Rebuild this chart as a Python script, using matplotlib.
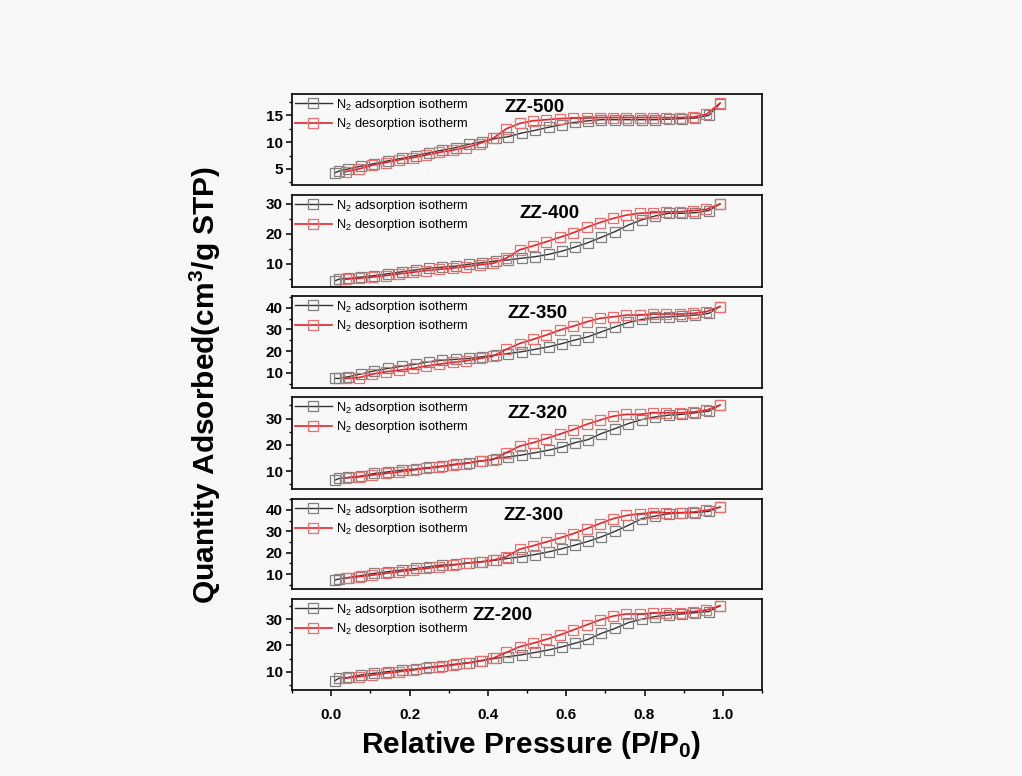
import matplotlib
matplotlib.use("Agg")
import matplotlib.pyplot as plt
from matplotlib.ticker import MultipleLocator

plt.rcParams['font.family'] = ['Liberation Sans', 'DejaVu Sans']
plt.rcParams['mathtext.default'] = 'regular'

# relative pressure points
x_ads = [0.01, 0.02, 0.044, 0.075, 0.11, 0.144, 0.182, 0.216, 0.25, 0.283, 0.319,
         0.351, 0.386, 0.42, 0.451, 0.486, 0.52, 0.556, 0.59, 0.622, 0.656, 0.69,
         0.725, 0.759, 0.793, 0.827, 0.862, 0.896, 0.93, 0.964, 0.992]
x_des = [0.037, 0.071, 0.105, 0.139, 0.174, 0.208, 0.242, 0.276, 0.31, 0.344, 0.379,
         0.413, 0.447, 0.481, 0.515, 0.549, 0.584, 0.618, 0.652, 0.686, 0.72, 0.754,
         0.788, 0.822, 0.856, 0.89, 0.924, 0.958, 0.993]

samples = ["ZZ-500", "ZZ-400", "ZZ-350", "ZZ-320", "ZZ-300", "ZZ-200"]

ads = {
    "ZZ-500": [4.3, 4.6, 5.0, 5.5, 6.0, 6.5, 7.0, 7.5, 8.0, 8.5, 9.0, 9.6, 10.1, 10.7, 11.0,
               11.7, 12.2, 12.8, 13.3, 13.7, 14.0, 14.2, 14.2, 14.2, 14.2, 14.2, 14.3, 14.4,
               14.5, 15.0, 17.2],
    "ZZ-400": [4.4, 4.9, 5.2, 5.6, 6.1, 6.7, 7.4, 8.0, 8.6, 8.9, 9.3, 9.9, 10.4, 11.0, 11.3,
               11.9, 12.4, 13.2, 14.3, 15.6, 17.1, 18.9, 20.8, 23.0, 24.7, 26.0, 26.9, 26.9,
               27.1, 27.8, 30.0],
    "ZZ-350": [7.4, 7.4, 8.2, 9.4, 10.9, 12.0, 13.1, 14.0, 15.1, 15.8, 16.2, 16.6, 17.4, 18.2,
               18.9, 19.7, 20.8, 22.0, 23.5, 25.1, 26.6, 28.9, 31.2, 33.2, 34.6, 35.5, 35.8,
               36.2, 36.6, 37.4, 40.5],
    "ZZ-320": [6.6, 7.2, 7.6, 8.1, 9.1, 9.7, 10.4, 10.8, 11.4, 11.9, 12.7, 13.2, 13.9, 14.8,
               15.4, 16.1, 17.0, 18.0, 19.2, 20.8, 22.0, 24.3, 26.2, 28.1, 29.6, 30.6, 31.3,
               31.6, 32.2, 32.8, 35.1],
    "ZZ-300": [7.2, 7.7, 8.3, 9.2, 10.3, 11.1, 11.9, 12.6, 13.4, 14.2, 14.5, 15.3, 15.7, 16.5,
               17.3, 18.1, 19.1, 20.4, 21.9, 23.5, 25.3, 27.4, 30.0, 32.8, 35.9, 37.1, 38.2,
               38.7, 38.7, 39.3, 41.3],
    "ZZ-200": [6.6, 7.5, 7.8, 8.7, 9.4, 10.0, 10.6, 11.0, 11.7, 12.2, 12.9, 13.4, 14.2, 15.1,
               15.7, 16.4, 17.3, 18.3, 19.5, 20.8, 22.3, 24.6, 26.5, 28.7, 30.0, 31.0, 31.6,
               32.0, 32.5, 32.9, 35.1],
}

des = {
    "ZZ-500": [4.5, 5.0, 5.7, 6.2, 6.7, 7.1, 7.6, 8.1, 8.5, 9.0, 9.75, 10.7, 12.5, 13.5, 14.0,
               14.2, 14.4, 14.5, 14.5, 14.6, 14.6, 14.6, 14.6, 14.6, 14.6, 14.6, 14.7, 15.2,
               17.3],
    "ZZ-400": [4.9, 5.2, 5.6, 6.1, 6.7, 7.2, 7.8, 8.2, 8.6, 9.1, 9.7, 10.2, 11.9, 14.7, 16.0,
               17.4, 18.9, 20.4, 22.2, 23.8, 25.2, 26.3, 26.9, 27.1, 27.4, 27.4, 27.8, 28.2,
               30.0],
    "ZZ-350": [7.4, 7.8, 9.4, 10.5, 11.2, 12.0, 13.1, 14.0, 14.8, 15.5, 16.6, 17.7, 20.8, 23.5,
               25.4, 27.4, 29.7, 31.5, 33.5, 35.1, 35.8, 36.6, 36.6, 37.1, 37.1, 37.1, 37.4,
               38.2, 40.5],
    "ZZ-320": [7.4, 7.8, 8.5, 9.1, 9.7, 10.4, 11.0, 11.6, 12.3, 12.9, 13.8, 14.4, 17.0, 19.5,
               20.8, 22.4, 24.1, 25.8, 27.8, 29.4, 30.9, 31.6, 31.6, 32.2, 32.2, 32.2, 32.5,
               33.2, 35.1],
    "ZZ-300": [8.2, 8.8, 9.5, 10.3, 11.1, 11.9, 12.6, 13.4, 14.2, 15.0, 15.7, 16.5, 18.1, 21.6,
               23.2, 25.0, 26.9, 28.9, 31.2, 33.6, 35.9, 37.4, 38.2, 38.7, 38.7, 38.7, 39.0,
               39.8, 41.3],
    "ZZ-200": [7.5, 8.1, 8.7, 9.4, 10.0, 10.6, 11.3, 11.9, 12.5, 13.2, 14.1, 15.1, 17.3, 19.5,
               20.8, 22.3, 24.0, 25.9, 27.8, 29.7, 31.2, 32.0, 32.0, 32.3, 32.5, 32.5, 32.9,
               33.5, 35.1],
}

ylims = {"ZZ-500": (2, 19), "ZZ-400": (2.3, 33), "ZZ-350": (3, 45.4),
         "ZZ-320": (3.2, 38.2), "ZZ-300": (3, 45.1), "ZZ-200": (3, 37.7)}
ymajor = {"ZZ-500": 5, "ZZ-400": 10, "ZZ-350": 10, "ZZ-320": 10, "ZZ-300": 10, "ZZ-200": 10}
label_pos = {"ZZ-500": (0.517, 0.857), "ZZ-400": (0.549, 0.80), "ZZ-350": (0.523, 0.815),
             "ZZ-320": (0.523, 0.826), "ZZ-300": (0.513, 0.822), "ZZ-200": (0.449, 0.824)}

W, H = 1022, 776
fig = plt.figure(figsize=(W / 100, H / 100), dpi=100, facecolor='#f8f8f8')

# panel top/bottom in pixels
panels_px = [(94, 185), (195, 287), (296, 388), (397, 489), (499, 589), (599, 690)]
left_px, right_px = 292, 762

for i, (name, (t, b)) in enumerate(zip(samples, panels_px)):
    ax = fig.add_axes([left_px / W, 1 - b / H, (right_px - left_px) / W, (b - t) / H])
    ax.set_facecolor('#f8f8f8')
    ax.plot(x_ads, ads[name], color='#333333', lw=1.0, marker='s', ms=7.5,
            mfc='none', mec='#808080', mew=0.9, label='N$_2$ adsorption isotherm')
    ax.plot(x_des, des[name], color='#e4232b', lw=1.2, marker='s', ms=7.5,
            mfc='none', mec='#ec6f6f', mew=0.9, label='N$_2$ desorption isotherm')
    ax.set_xlim(-0.1, 1.1)
    ax.set_ylim(*ylims[name])
    ax.yaxis.set_major_locator(MultipleLocator(ymajor[name]))
    ax.yaxis.set_minor_locator(MultipleLocator(ymajor[name] / 2))
    ax.xaxis.set_major_locator(MultipleLocator(0.2))
    ax.xaxis.set_minor_locator(MultipleLocator(0.1))
    for s in ax.spines.values():
        s.set_linewidth(1.2)
    ax.tick_params(axis='both', which='major', direction='out', length=4, width=1.1,
                   labelsize=11, pad=2.5)
    ax.tick_params(axis='both', which='minor', direction='out', length=2.5, width=1.0)
    for lab in ax.get_yticklabels():
        lab.set_fontweight('bold')
    if i < len(samples) - 1:
        ax.tick_params(axis='x', which='both', bottom=False, labelbottom=False)
    else:
        ax.tick_params(axis='x', which='major', pad=9)
        for lab in ax.get_xticklabels():
            lab.set_fontweight('bold')
    ax.legend(loc='upper left', frameon=False, fontsize=9.3, handlelength=2.9,
              handletextpad=0.3, borderpad=0.2, borderaxespad=0.0, labelspacing=0.3)
    ax.text(label_pos[name][0], label_pos[name][1], name, transform=ax.transAxes,
            ha='center', va='center', fontsize=13.5, fontweight='bold')

fig.text(205 / W, 1 - 385 / H, 'Quantity Adsorbed(cm$^3$/g STP)', rotation=90,
         ha='center', va='center', fontsize=21.5, fontweight='bold')
fig.text(531 / W, 1 - 745 / H, 'Relative Pressure (P/P$_0$)',
         ha='center', va='center', fontsize=21.5, fontweight='bold')

fig.savefig('out.png', dpi=100, facecolor=fig.get_facecolor())
